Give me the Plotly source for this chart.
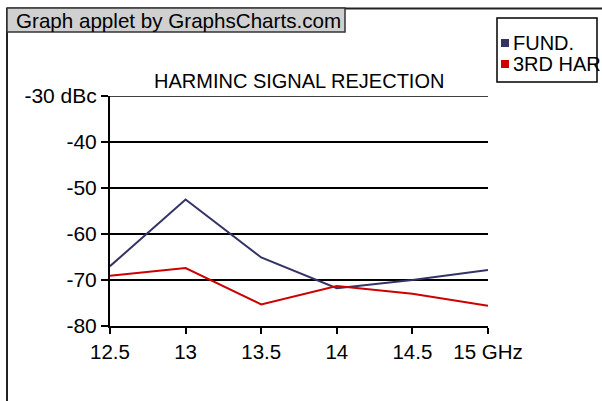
import plotly.graph_objects as go

freq = [12.5, 13, 13.5, 14, 14.5, 15]
fund = [-67.0, -52.5, -65.1, -71.8, -70.0, -67.8]
har3 = [-69.1, -67.4, -75.3, -71.3, -73.0, -75.6]
series_names = ["FUND.", "3RD HAR"]
series_colors = ["#333366", "#CC0000"]
x_tickvals = [12.5, 13, 13.5, 14, 14.5, 15]
x_ticktext = ["12.5", "13", "13.5", "14", "14.5", "15 GHz"]
y_tickvals = [-30, -40, -50, -60, -70, -80]
y_ticktext = ["-30 dBc", "-40", "-50", "-60", "-70", "-80"]
title_text = "HARMINC SIGNAL REJECTION"
banner_text = "Graph applet by GraphsCharts.com"

W, H = 602, 401
L, R, T, B = 110, 114, 96, 75
PW, PH = W - L - R, H - T - B
FONT = "Liberation Sans, Arial, sans-serif"


def px(x):
    return (x - L) / PW


def py(y):
    return (H - B - y) / PH


fig = go.Figure()
for name, ys, col in zip(series_names, [fund, har3], series_colors):
    fig.add_trace(go.Scatter(x=freq, y=ys, mode="lines", name=name,
                             line=dict(color=col, width=2), showlegend=False))

shapes = [
    # outer frame
    dict(type="line", xref="paper", yref="paper", x0=px(7), x1=px(603), y0=py(8.5), y1=py(8.5),
         line=dict(color="#222222", width=2)),
    dict(type="line", xref="paper", yref="paper", x0=px(7), x1=px(7), y0=py(8), y1=py(402),
         line=dict(color="#222222", width=2)),
    # banner
    dict(type="rect", xref="paper", yref="paper", x0=px(7), x1=px(345), y0=py(32), y1=py(8),
         fillcolor="#D0D0D0", line=dict(color="#333333", width=1.5)),
    # legend box
    dict(type="rect", xref="paper", yref="paper", x0=px(497), x1=px(597), y0=py(82), y1=py(18),
         fillcolor="white", line=dict(color="black", width=1.5)),
    # top gridline (at the top of the value range)
    dict(type="line", xref="paper", yref="y", x0=0, x1=1, y0=max(y_tickvals), y1=max(y_tickvals),
         line=dict(color="black", width=1.5), layer="below"),
]
legend_y = [43, 64]
for yy, col in zip(legend_y, series_colors):
    shapes.append(dict(type="rect", xref="paper", yref="paper", x0=px(501), x1=px(509),
                       y0=py(yy + 4), y1=py(yy - 4), fillcolor=col, line=dict(width=0)))

annotations = [
    dict(text=banner_text, xref="paper", yref="paper", x=px(14), y=py(20.5),
         xanchor="left", yanchor="middle", showarrow=False,
         font=dict(family=FONT, size=20.6, color="black")),
    dict(text=title_text, xref="paper", yref="paper", x=0.5, y=py(80.5),
         xanchor="center", yanchor="middle", showarrow=False,
         font=dict(family=FONT, size=20, color="black")),
]
for yy, name in zip(legend_y, series_names):
    annotations.append(dict(text=name, xref="paper", yref="paper", x=px(511), y=py(yy),
                            xanchor="left", yanchor="middle", showarrow=False,
                            font=dict(family=FONT, size=20, color="black")))

fig.update_layout(
    width=W, height=H,
    margin=dict(l=L, r=R, t=T, b=B),
    paper_bgcolor="white", plot_bgcolor="white",
    font=dict(family=FONT, size=20, color="black"),
    shapes=shapes, annotations=annotations,
    xaxis=dict(range=[12.5, 15], tickvals=x_tickvals, ticktext=x_ticktext,
               showgrid=False, zeroline=False, showline=True, linecolor="black", linewidth=2,
               ticks="outside", ticklen=6, tickwidth=2, tickcolor="black",
               tickfont=dict(family=FONT, size=20.5, color="black")),
    yaxis=dict(range=[-80, -30], tickvals=y_tickvals, ticktext=y_ticktext,
               showgrid=True, gridcolor="black", gridwidth=1.5, zeroline=False,
               showline=True, linecolor="black", linewidth=2,
               ticks="outside", ticklen=7, tickwidth=2, tickcolor="black",
               tickfont=dict(family=FONT, size=21, color="black")),
)

fig.write_html("out.html", config={"displayModeBar": False},
               post_script="document.body.style.margin='0';document.body.style.overflow='hidden';")
